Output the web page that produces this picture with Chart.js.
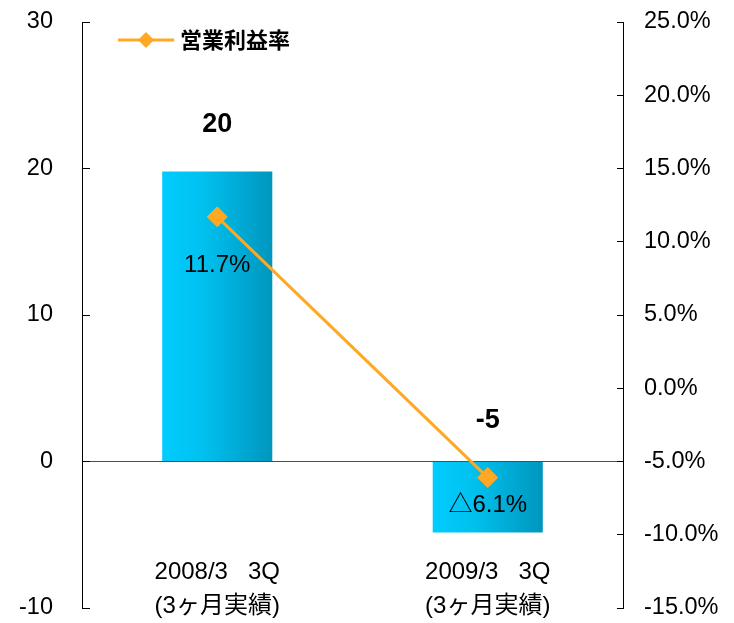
<!DOCTYPE html>
<html>
<head>
<meta charset="utf-8">
<script src="https://cdn.jsdelivr.net/npm/chart.js@4.4.1/dist/chart.umd.min.js"></script>
<style>
  html, body { margin: 0; padding: 0; background: #fff; }
  canvas { display: block; }
</style>
</head>
<body>
<canvas id="chart" width="734" height="623"></canvas>
<script>
/* global Chart */

// ---------------------------------------------------------------------------
// Data
// ---------------------------------------------------------------------------

const CATEGORIES   = [['2008/3   3Q', '(3ヶ月実績)'], ['2009/3   3Q', '(3ヶ月実績)']];
const PROFIT       = [19.8, -4.85];   // 営業利益 (bars, left axis)
const MARGIN       = [11.7, -6.1];    // 営業利益率 % (line, right axis)
const MARGIN_LABEL = '営業利益率';
const LEFT_TICKS   = [-10, 0, 10, 20, 30];
const RIGHT_TICKS  = [-15, -10, -5, 0, 5, 10, 15, 20, 25];

const FONT    = "'Liberation Sans', 'Noto Sans CJK JP', sans-serif";
const ORANGE  = '#FFA824';
const BAR_PCT = 0.407;

const fmtPct = v => (v < 0 ? '△' + Math.abs(v).toFixed(1) : v.toFixed(1)) + '%';

// horizontal cyan -> teal gradient per bar
function barFill(ctx) {
    const chart = ctx.chart;
    const x = chart.scales.x;
    if (!x || !chart.chartArea || ctx.dataIndex === undefined) return '#00BFEA';
    const cx   = x.getPixelForValue(ctx.dataIndex);
    const half = chart.chartArea.width / CATEGORIES.length * BAR_PCT / 2;
    const g = chart.ctx.createLinearGradient(cx - half, 0, cx + half, 0);
    g.addColorStop(0,    '#00CCFF');
    g.addColorStop(0.35, '#00C2F0');
    g.addColorStop(1,    '#0096BE');
    return g;
}

// y axes: fixed width, and keep the big label padding from shrinking the plot
const fixAxis = width => s => {
    s.width = width;
    s.paddingTop = 12;
    s.paddingBottom = 12;
};

// ---------------------------------------------------------------------------
// Plugins
// ---------------------------------------------------------------------------

const lineLegend = {
    id: 'lineLegend',
    afterDraw(chart) {
        const c  = chart.ctx;
        const a  = chart.chartArea;
        const ds = chart.data.datasets[0];
        const y  = a.top + 18;
        const x0 = a.left + 36, x1 = a.left + 92, xm = (x0 + x1) / 2;
        c.save();
        c.strokeStyle = ds.borderColor;
        c.lineWidth = 3;
        c.beginPath(); c.moveTo(x0, y); c.lineTo(x1, y); c.stroke();
        c.fillStyle = ds.borderColor;
        c.beginPath();
        c.moveTo(xm - 8, y); c.lineTo(xm, y - 8); c.lineTo(xm + 8, y); c.lineTo(xm, y + 8);
        c.closePath(); c.fill();
        c.fillStyle = '#000';
        c.font = "bold 22px 'Noto Sans CJK JP', sans-serif";
        c.textBaseline = 'middle';
        c.textAlign = 'left';
        c.fillText(ds.label, x1 + 6, y);
        c.restore();
    },
};

const valueLabels = {
    id: 'valueLabels',
    afterDatasetsDraw(chart) {
        const c = chart.ctx;
        const a = chart.chartArea;
        const x = chart.scales.x;
        c.save();
        c.fillStyle = '#000';
        c.textAlign = 'center';
        c.textBaseline = 'middle';

        // bar values, above the bar top / zero line
        c.font = 'bold 27px ' + FONT;
        chart.getDatasetMeta(1).data.forEach((el, i) => {
            const top = Math.min(el.y, el.base);
            c.fillText(String(Math.round(PROFIT[i])), el.x, top - (el.y < el.base ? 47 : 41));
        });

        // margin values, below the points
        const offsets = [49, 28];
        c.font = '24px ' + FONT;
        chart.getDatasetMeta(0).data.forEach((el, i) => {
            c.fillText(fmtPct(MARGIN[i]), el.x, el.y + offsets[i]);
        });

        // category labels, inside the bottom of the plot
        c.font = '24px ' + FONT;
        CATEGORIES.forEach((lines, i) => {
            const cx = x.getPixelForValue(i);
            c.fillText(lines[0], cx, a.bottom - 36);
            c.fillText(lines[1], cx, a.bottom - 2);
        });
        c.restore();
    },
};

// ---------------------------------------------------------------------------
// Chart
// ---------------------------------------------------------------------------

new Chart(document.getElementById('chart').getContext('2d'), {
    data: {
        labels: CATEGORIES,
        datasets: [
            {
                type:             'line',
                label:            MARGIN_LABEL,
                data:             MARGIN,
                yAxisID:          'y1',
                order:            0,
                borderColor:      ORANGE,
                backgroundColor:  ORANGE,
                borderWidth:      3,
                tension:          0,
                pointStyle:       'rectRot',
                pointRadius:      10,
                pointBorderWidth: 1,
                pointBackgroundColor: ORANGE,
                pointBorderColor: ORANGE,
            },
            {
                type:               'bar',
                label:              '営業利益',
                data:               PROFIT,
                yAxisID:            'y',
                order:              1,
                backgroundColor:    barFill,
                borderWidth:        0,
                categoryPercentage: 1,
                barPercentage:      BAR_PCT,
            },
        ],
    },
    options: {
        responsive:       false,
        animation:        false,
        devicePixelRatio: 1,
        layout:  { padding: { top: 22, bottom: 15, left: 0, right: 0 } },
        plugins: { legend: { display: false }, tooltip: { enabled: false } },
        scales: {
            x: {
                display: false,
                offset:  true,
            },
            y: {
                position: 'left',
                min: LEFT_TICKS[0],
                max: LEFT_TICKS[LEFT_TICKS.length - 1],
                afterBuildTicks: s => { s.ticks = LEFT_TICKS.map(v => ({ value: v })); },
                afterFit: fixAxis(82),
                grid: {
                    color:      c => (c.tick && c.tick.value === 0 ? '#4d4d4d' : 'rgba(0,0,0,0)'),
                    tickColor:  '#000',
                    tickLength: -8,
                    lineWidth:  1,
                },
                border: { display: true, color: '#000', width: 1 },
                ticks:  { color: '#000', font: { family: FONT, size: 23.5 }, padding: 37 },
            },
            y1: {
                position: 'right',
                min: RIGHT_TICKS[0],
                max: RIGHT_TICKS[RIGHT_TICKS.length - 1],
                afterBuildTicks: s => { s.ticks = RIGHT_TICKS.map(v => ({ value: v })); },
                afterFit: fixAxis(111),
                grid: {
                    drawOnChartArea: false,
                    tickColor:  '#000',
                    tickLength: -6,
                },
                border: { display: true, color: '#000', width: 1 },
                ticks: {
                    color: '#000',
                    font: { family: FONT, size: 23.5 },
                    padding: 27,
                    callback: v => v.toFixed(1) + '%',
                },
            },
        },
    },
    plugins: [lineLegend, valueLabels],
});
</script>
</body>
</html>
